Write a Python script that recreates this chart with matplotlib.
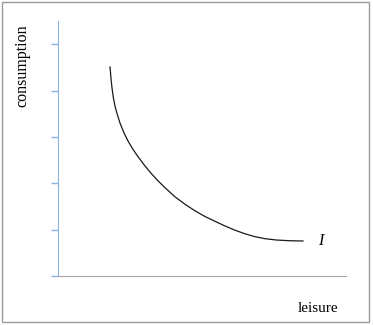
import matplotlib
matplotlib.use("Agg")
import matplotlib.pyplot as plt
from matplotlib.patches import Rectangle

# indifference curve
leisure = [1.122, 1.143, 1.165, 1.197, 1.229, 1.273, 1.337, 1.424, 1.510, 1.596,
           1.704, 1.855, 2.006, 2.157, 2.308, 2.524, 2.740, 2.955, 3.171, 3.387,
           3.602, 3.818, 4.034, 4.249, 4.465, 4.702, 4.983, 5.285]
consumption = [4.508, 4.260, 4.055, 3.829, 3.667, 3.505, 3.300, 3.085, 2.912, 2.765,
               2.604, 2.401, 2.217, 2.053, 1.905, 1.708, 1.547, 1.406, 1.283, 1.180,
               1.079, 0.988, 0.910, 0.848, 0.805, 0.777, 0.761, 0.755]
y_ticks = [0, 1, 2, 3, 4, 5]

fig = plt.figure(figsize=(3.73, 3.25), dpi=100)
W, H = 373, 325
ax = fig.add_axes([58 / W, 1 - 276 / H, 288 / W, 255 / H])

ax.plot(leisure, consumption, color="#1a1a1a", lw=0.9, solid_joinstyle="round")
ax.set_xlim(0, 288 / 46.36)
ax.set_ylim(0, 5.5)

ax.set_yticks(y_ticks)
ax.set_yticklabels([])
ax.set_xticks([])
ax.tick_params(axis="y", direction="out", length=5, width=1, color="#8cb3e3")

for side in ["top", "right"]:
    ax.spines[side].set_visible(False)
ax.spines["left"].set_color("#8cb3e3")
ax.spines["bottom"].set_color("#a6a6a6")

serif = "Liberation Serif"
ax.text(5.60, 0.75, "I", fontsize=11.5, fontstyle="italic", family=serif, va="center")
fig.text(22 / W, 1 - 66 / H, "consumption", rotation=90, fontsize=11.5,
         family=serif, ha="center", va="center")
fig.text(318 / W, 1 - 309 / H, "leisure", fontsize=11, family=serif,
         ha="center", va="center")

fig.patches.append(Rectangle((2 / W, 3 / H), 367 / W, 320 / H, transform=fig.transFigure,
                             fill=False, edgecolor="#9a9a9a", lw=1))

fig.savefig("out.png", dpi=100)
